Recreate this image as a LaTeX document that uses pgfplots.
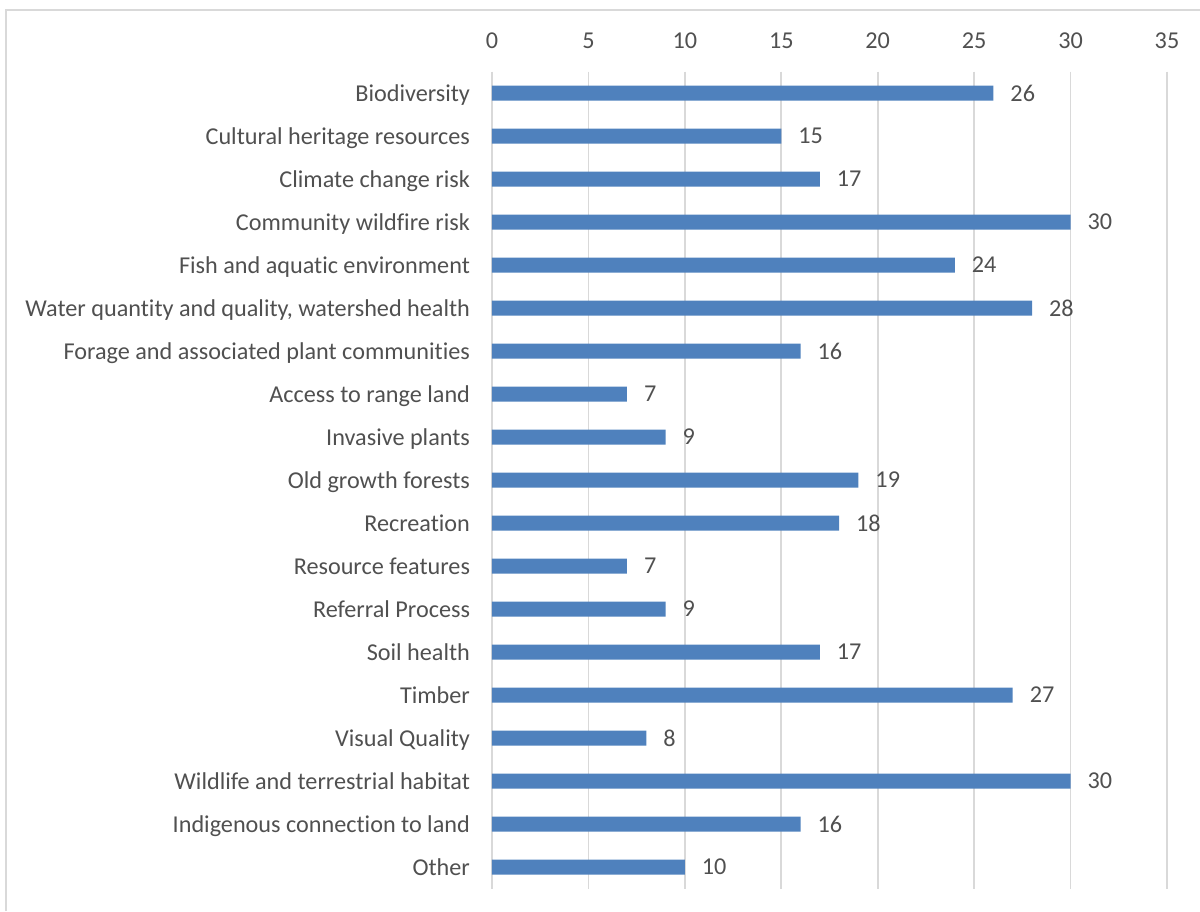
\documentclass[border=0pt]{standalone}
\usepackage{pgfplots}
\pgfplotsset{compat=1.18}
\usepackage{fontspec}
\setmainfont{Carlito}[Ligatures={NoCommon}]
\definecolor{barblue}{RGB}{79,129,189}
\definecolor{txt}{RGB}{80,80,80}
\definecolor{gridc}{RGB}{217,217,217}
\begin{document}
\begin{tikzpicture}
\useasboundingbox (0,0) rectangle (600pt,-455.5pt);
\draw[gridc, line width=0.8pt] (3pt,-455.5pt) -- (3pt,-5pt) -- (600pt,-5pt);
\begin{axis}[
  at={(246pt,-444.25pt)}, anchor=south west,
  scale only axis, width=337.5pt, height=408.5pt,
  xbar, bar width=7.5pt,
  xmin=0, xmax=35, ymin=-0.5, ymax=18.5,
  y dir=reverse,
  xtick={0,5,...,35},
  xticklabel pos=upper,
  ytick={0,...,18},
  yticklabels={Biodiversity,Cultural heritage resources,Climate change risk,Community wildfire risk,Fish and aquatic environment,{Water quantity and quality, watershed health},Forage and associated plant communities,Access to range land,Invasive plants,Old growth forests,Recreation,Resource features,Referral Process,Soil health,Timber\ ,Visual Quality,Wildlife and terrestrial habitat,Indigenous connection to land,Other},
  major tick length=0pt,
  axis line style={draw=none},
  xmajorgrids, grid style={gridc, line width=0.8pt},
  /pgf/number format/assume math mode=true,
  tick label style={font=\fontsize{12.1}{14}\selectfont, text=txt},
  yticklabel style={anchor=base east, xshift=-7.5pt, yshift=-4pt},
  xticklabel style={yshift=8pt},
  nodes near coords,
  nodes near coords style={font=\fontsize{12.1}{14}\selectfont, text=txt, anchor=west, xshift=5pt},
]
\addplot[fill=barblue, draw=none] coordinates {
(26,0) (15,1) (17,2) (30,3) (24,4) (28,5) (16,6) (7,7) (9,8) (19,9)
(18,10) (7,11) (9,12) (17,13) (27,14) (8,15) (30,16) (16,17) (10,18)};
\end{axis}
\end{tikzpicture}
\end{document}
